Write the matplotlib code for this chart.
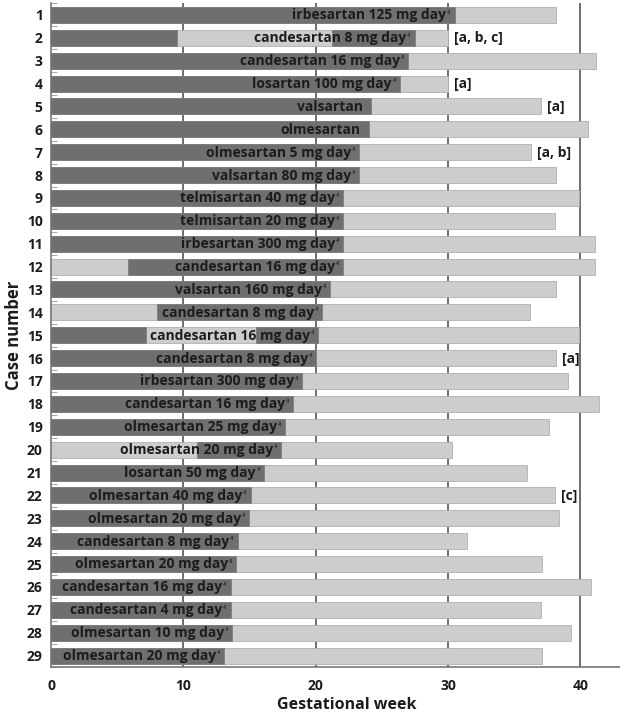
import numpy as np
import matplotlib
matplotlib.use('Agg')
import matplotlib.pyplot as plt

plt.rcParams['font.family'] = ['Open Sans', 'DejaVu Sans']

# case data (weeks)
cases = list(range(1, 30))
drug = ['irbesartan', 'candesartan', 'candesartan', 'losartan', 'valsartan',
        'olmesartan', 'olmesartan', 'valsartan', 'telmisartan', 'telmisartan',
        'irbesartan', 'candesartan', 'valsartan', 'candesartan', 'candesartan',
        'candesartan', 'irbesartan', 'candesartan', 'olmesartan', 'olmesartan',
        'losartan', 'olmesartan', 'olmesartan', 'candesartan', 'olmesartan',
        'candesartan', 'candesartan', 'olmesartan', 'olmesartan']
dose = [125, 8, 16, 100, None, None, 5, 80, 40, 20, 300, 16, 160, 8, 16,
        8, 300, 16, 25, 20, 50, 40, 20, 8, 20, 16, 4, 10, 20]
pregnancy_end = [38.2, 30.0, 41.2, 30.0, 37.0, 40.6, 36.3, 38.2, 39.9, 38.1,
                 41.1, 41.1, 38.2, 36.2, 39.9, 38.2, 39.1, 41.4, 37.6, 30.3,
                 36.0, 38.1, 38.4, 31.4, 37.1, 40.8, 37.0, 39.3, 37.1]
exposure_start = [0, 21.2, 0, 0, 0, 0, 0, 0, 0, 0, 0, 5.8, 0, 8.0, 15.5,
                  0, 0, 0, 0, 11.0, 0, 0, 0, 0, 0, 0, 0, 0, 0]
exposure_end = [30.5, 27.5, 27.0, 26.4, 24.2, 24.0, 23.3, 23.3, 22.1, 22.1,
                22.1, 22.1, 21.1, 20.5, 20.2, 20.05, 19.0, 18.3, 17.7, 17.4,
                16.1, 15.1, 15.0, 14.1, 14.0, 13.6, 13.6, 13.7, 13.1]
# earlier, separate exposure periods
early_cases = [2, 15]
early_end = [9.5, 7.2]
notes = {2: '[a, b, c]', 4: '[a]', 5: '[a]', 7: '[a, b]', 16: '[a]', 22: '[c]'}

dark = '#6f6f6f'
light = '#cdcdcd'
txt = '#1c1c1c'

fig = plt.figure(figsize=(6.2, 7.17), dpi=100)
ax = fig.add_axes([51 / 620, 1 - 667 / 717, 1 - 51 / 620, 664 / 717])

y = np.array(cases)
h = 0.7
ax.barh(y, pregnancy_end, height=h, color=light, edgecolor='#b0b0b0',
        linewidth=0.6, zorder=2)
ax.barh(y, np.array(exposure_end) - np.array(exposure_start), left=exposure_start,
        height=h, color=dark, edgecolor=dark, linewidth=0.4, zorder=3)
ax.barh(early_cases, early_end, height=h, color=dark, edgecolor=dark,
        linewidth=0.4, zorder=3)

for i, c in enumerate(cases):
    if dose[i] is None:
        lab = drug[i]
        xr = exposure_end[i] - 0.6
    else:
        lab = f'{drug[i]} {dose[i]} mg day'
        xr = exposure_end[i] - 0.65
        ax.text(exposure_end[i] - 0.25, c - 0.12, '-1', ha='right', va='center',
                fontsize=3.5, fontweight='bold', color=txt, zorder=4)
    ax.text(xr, c + 0.02, lab, ha='right', va='center', fontsize=10,
            fontweight='bold', color=txt, zorder=4)
    if c in notes:
        ax.text(pregnancy_end[i] + 0.45, c + 0.02, notes[c], ha='left',
                va='center', fontsize=10, fontweight='bold', color=txt, zorder=4)

for gx in [10, 20, 30, 40]:
    ax.axvline(gx, color='#555555', lw=1.2, zorder=1)

ax.set_xlim(0, 43)
ax.set_ylim(29.44, 0.48)
ax.set_xticks([0, 10, 20, 30, 40])
ax.set_yticks(cases)
ax.set_yticks(np.arange(0.5, 30, 1), minor=True)
ax.tick_params(axis='x', length=0, pad=9, labelsize=10, colors=txt)
ax.tick_params(axis='y', which='major', length=0, pad=6, labelsize=10, colors=txt)
ax.tick_params(axis='y', which='minor', direction='in', length=4, width=0.8,
               color='#aaaaaa')
for lab in ax.get_xticklabels() + ax.get_yticklabels():
    lab.set_fontweight('bold')

for s in ['top', 'right']:
    ax.spines[s].set_visible(False)
for s in ['left', 'bottom']:
    ax.spines[s].set_color('#777777')
    ax.spines[s].set_linewidth(1.2)

ax.set_xlabel('Gestational week', fontsize=11.5, fontweight='bold', color=txt)
ax.xaxis.set_label_coords(0.52, -0.045)
ax.set_ylabel('Case number', fontsize=12, fontweight='bold', color=txt)
ax.yaxis.set_label_coords(-0.05, 0.5)

fig.savefig('out.png', dpi=100)
